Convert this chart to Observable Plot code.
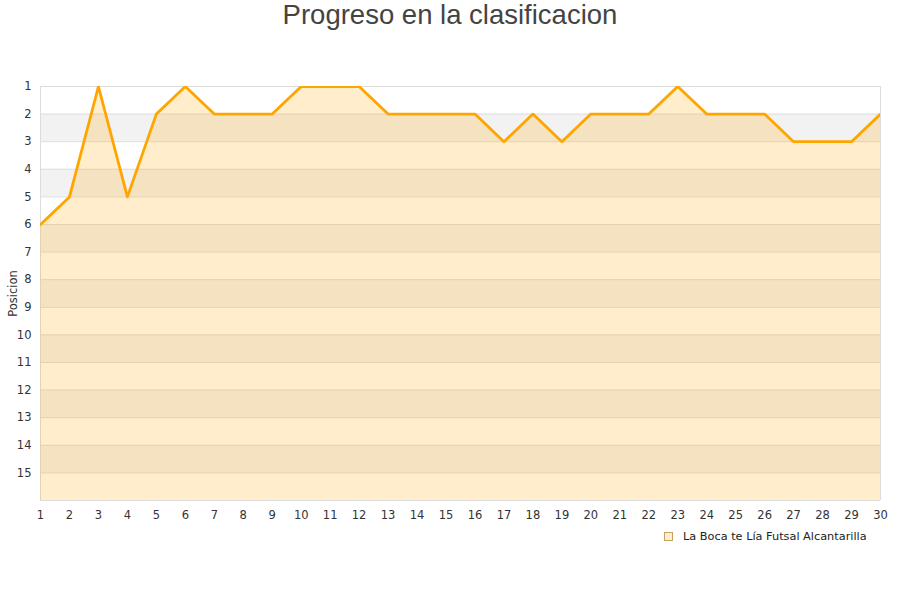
<!DOCTYPE html>
<html>
<head>
<meta charset="utf-8">
<script src="https://cdn.jsdelivr.net/npm/d3@7"></script>
<script src="https://cdn.jsdelivr.net/npm/@observablehq/plot@0.6"></script>
<style>
  body { margin: 0; background: #fff; }
  #wrap { position: relative; width: 900px; height: 600px; }
  #title { position: absolute; left: 0; top: -1px; width: 900px; text-align: center;
    font-family: "Liberation Sans", Arial, sans-serif; font-size: 27.5px; color: #444; line-height: 32px; }
  #chart { position: absolute; left: 0; top: 50px; }
  #legend { position: absolute; left: 664px; top: 530px; font-family: "DejaVu Sans", sans-serif;
    font-size: 11.3px; color: #222; display: flex; align-items: center; }
  #legend .sw { width: 7px; height: 7px; border: 1px solid #c8a060; background: #ffedcc; margin-right: 10px; }
</style>
</head>
<body>
<div id="wrap">
  <div id="title">Progreso en la clasificacion</div>
  <div id="chart"></div>
  <div id="legend"><span class="sw"></span><span id="legtext"></span></div>
</div>
<script>
const jornadas = [1,2,3,4,5,6,7,8,9,10,11,12,13,14,15,16,17,18,19,20,21,22,23,24,25,26,27,28,29,30];
const posiciones = [6,5,1,5,2,1,2,2,2,1,1,1,2,2,2,2,3,2,3,2,2,2,1,2,2,2,3,3,3,2];
const yTicks = [1,2,3,4,5,6,7,8,9,10,11,12,13,14,15];
const bandStarts = [2,4,6,8,10,12,14];
const gridLines = [1,2,3,4,5,6,7,8,9,10,11,12,13,14,15,16];
const serie = "La Boca te Lía Futsal Alcantarilla";
const bottomPos = 16;

const data = jornadas.map((j, i) => ({j, p: posiciones[i]}));
const bands = bandStarts.map(b => ({a: b, b: b + 1}));

document.getElementById("legtext").textContent = serie;

const chart = Plot.plot({
  width: 900,
  height: 500,
  marginLeft: 40,
  marginRight: 20,
  marginTop: 36,
  marginBottom: 50,
  style: {fontFamily: "DejaVu Sans, sans-serif", fontSize: "11.5px", color: "#333", background: "transparent"},
  x: {domain: [1, 30], ticks: jornadas, tickSize: 0, tickPadding: 10, label: null, tickFormat: d => String(d)},
  y: {domain: [1, bottomPos], reverse: true, ticks: yTicks, tickSize: 0, tickPadding: 9,
      label: "Posicion", labelAnchor: "center", labelArrow: "none", labelOffset: 32},
  marks: [
    Plot.rectY(bands, {x1: 1, x2: 30, y1: "a", y2: "b", fill: "#f2f2f2"}),
    Plot.ruleY(gridLines, {stroke: "#dddddd", strokeWidth: 1}),
    Plot.ruleX([1, 30], {stroke: "#dddddd", strokeWidth: 1}),
    Plot.areaY(data, {x: "j", y1: bottomPos, y2: "p", fill: "#FFA500", fillOpacity: 0.2}),
    Plot.line(data, {x: "j", y: "p", stroke: "#FFA500", strokeWidth: 2.8, clip: true})
  ]
});
document.getElementById("chart").appendChild(chart);
</script>
</body>
</html>
